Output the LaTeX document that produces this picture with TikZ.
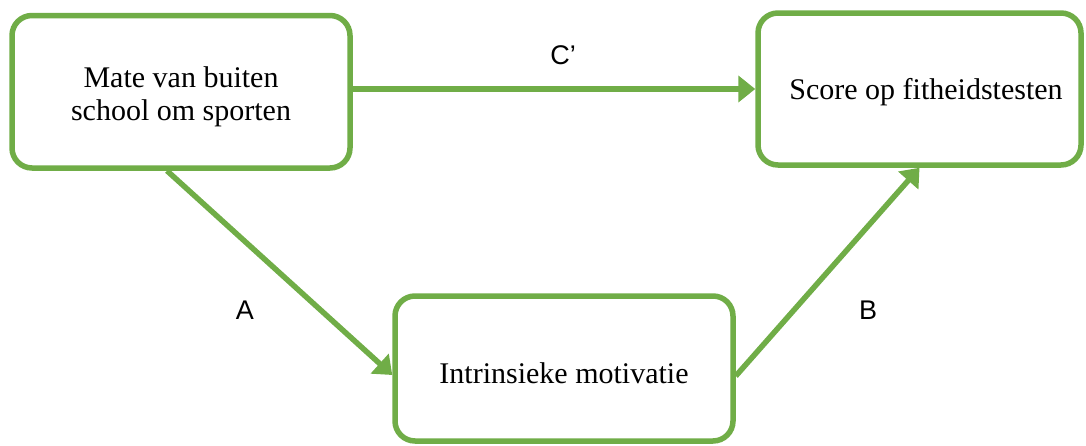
\documentclass[tikz,border=0pt]{standalone}
\usepackage{fontspec}
\setmainfont{Liberation Serif}
\newfontfamily\lblfont{Liberation Sans}
\usetikzlibrary{arrows.meta}
\definecolor{boxgreen}{HTML}{70AD47}
\newcommand{\topstrut}[1]{\rule{0pt}{#1}}
\tikzset{
  box/.style={draw=boxgreen, line width=5.5pt, rounded corners=20pt, fill=white,
    align=center, font=\fontsize{30}{33}\selectfont, inner sep=0pt},
  arr/.style={draw=boxgreen, line width=5.5pt, -{Triangle[length=17pt,width=26pt]}},
  lbl/.style={font=\lblfont\fontsize{27}{30}\selectfont, inner sep=0pt}
}
\begin{document}
\begin{tikzpicture}[x=1pt,y=-1pt]
\useasboundingbox (0,0) rectangle (1086,445);
\node[box, minimum width=338pt, minimum height=152.5pt] (b1) at (181,91.75) {\topstrut{30pt}Mate van buiten\\school om sporten};
\node[box, minimum width=323pt, minimum height=152pt] (b2) at (919.5,89) {\hspace*{13pt}\topstrut{28pt}Score op fitheidstesten};
\node[box, minimum width=338pt, minimum height=145pt] (b3) at (564,368.5) {\topstrut{31pt}Intrinsieke motivatie};
\draw[arr] (b1.east |- b2.west) -- (b2.west);
\draw[arr] ([xshift=-14pt]b1.south) -- ([yshift=-6.5pt]b3.west);
\draw[arr] ([yshift=-7.5pt]b3.east) -- (b2.south);
\node[lbl] (lc) at (563,55) {C’};
\node[lbl] (la) at (245,310) {A};
\node[lbl] (lb) at (868,310) {B};
\end{tikzpicture}
\end{document}
